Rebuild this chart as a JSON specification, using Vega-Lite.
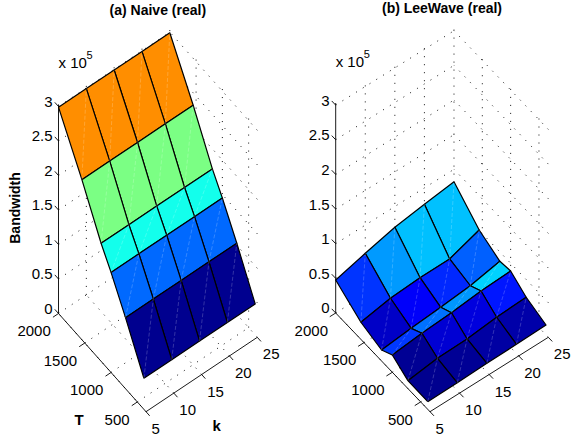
{"$schema":"https://vega.github.io/schema/vega-lite/v6.json","width":571,"height":440,"autosize":{"type":"fit","contains":"padding"},"padding":0,"background":"white","config":{"view":{"stroke":null},"text":{"font":"Liberation Sans"}},
"data":{"values":[
{"kind":"grid","id":"g1","p":["a","b"],"k":[5,5],"T":[335,2000],"z":[0,0],"o":[0,1]},
{"kind":"grid","id":"g2","p":["a","b"],"k":[10,10],"T":[335,2000],"z":[0,0],"o":[0,1]},
{"kind":"grid","id":"g3","p":["a","b"],"k":[15,15],"T":[335,2000],"z":[0,0],"o":[0,1]},
{"kind":"grid","id":"g4","p":["a","b"],"k":[20,20],"T":[335,2000],"z":[0,0],"o":[0,1]},
{"kind":"grid","id":"g5","p":["a","b"],"k":[25,25],"T":[335,2000],"z":[0,0],"o":[0,1]},
{"kind":"grid","id":"g6","p":["a","b"],"k":[5,25],"T":[500,500],"z":[0,0],"o":[0,1]},
{"kind":"grid","id":"g7","p":["a","b"],"k":[5,25],"T":[1000,1000],"z":[0,0],"o":[0,1]},
{"kind":"grid","id":"g8","p":["a","b"],"k":[5,25],"T":[1500,1500],"z":[0,0],"o":[0,1]},
{"kind":"grid","id":"g9","p":["a","b"],"k":[5,25],"T":[2000,2000],"z":[0,0],"o":[0,1]},
{"kind":"grid","id":"h1","p":["a","b"],"k":[5,25],"T":[2000,2000],"z":[0.5,0.5],"o":[0,1]},
{"kind":"grid","id":"h2","p":["a","b"],"k":[5,25],"T":[2000,2000],"z":[1,1],"o":[0,1]},
{"kind":"grid","id":"h3","p":["a","b"],"k":[5,25],"T":[2000,2000],"z":[1.5,1.5],"o":[0,1]},
{"kind":"grid","id":"h4","p":["a","b"],"k":[5,25],"T":[2000,2000],"z":[2,2],"o":[0,1]},
{"kind":"grid","id":"h5","p":["a","b"],"k":[5,25],"T":[2000,2000],"z":[2.5,2.5],"o":[0,1]},
{"kind":"grid","id":"h6","p":["a","b"],"k":[5,25],"T":[2000,2000],"z":[3,3],"o":[0,1]},
{"kind":"grid","id":"v1","p":["a","b"],"k":[10,10],"T":[2000,2000],"z":[0,3.03],"o":[0,1]},
{"kind":"grid","id":"v2","p":["a","b"],"k":[15,15],"T":[2000,2000],"z":[0,3.03],"o":[0,1]},
{"kind":"grid","id":"v3","p":["a","b"],"k":[20,20],"T":[2000,2000],"z":[0,3.03],"o":[0,1]},
{"kind":"grid","id":"v4","p":["a","b"],"k":[25,25],"T":[2000,2000],"z":[0,3.03],"o":[0,1]},
{"kind":"grid","id":"w1","p":["a","b"],"k":[25,25],"T":[335,2000],"z":[0.5,0.5],"o":[0,1]},
{"kind":"grid","id":"w2","p":["a","b"],"k":[25,25],"T":[335,2000],"z":[1,1],"o":[0,1]},
{"kind":"grid","id":"w3","p":["a","b"],"k":[25,25],"T":[335,2000],"z":[1.5,1.5],"o":[0,1]},
{"kind":"grid","id":"w4","p":["a","b"],"k":[25,25],"T":[335,2000],"z":[2,2],"o":[0,1]},
{"kind":"grid","id":"w5","p":["a","b"],"k":[25,25],"T":[335,2000],"z":[2.5,2.5],"o":[0,1]},
{"kind":"grid","id":"w6","p":["a","b"],"k":[25,25],"T":[335,2000],"z":[3,3],"o":[0,1]},
{"kind":"grid","id":"u1","p":["a","b"],"k":[25,25],"T":[500,500],"z":[0,3.03],"o":[0,1]},
{"kind":"grid","id":"u2","p":["a","b"],"k":[25,25],"T":[1000,1000],"z":[0,3.03],"o":[0,1]},
{"kind":"grid","id":"u3","p":["a","b"],"k":[25,25],"T":[1500,1500],"z":[0,3.03],"o":[0,1]},
{"kind":"axis","id":"az","p":["a","b"],"k":[5,5],"T":[2000,2000],"z":[0,3.03],"o":[0,1]},
{"kind":"axis","id":"aT","p":["a","b"],"k":[5,5],"T":[335,2000],"z":[0,0],"o":[0,1]},
{"kind":"axis","id":"ak","p":["a","b"],"k":[5,25],"T":[335,335],"z":[0,0],"o":[0,1]},
{"kind":"axis","id":"t1","p":["a","b"],"k":[4,5],"T":[2000,2000],"z":[0,0],"o":[0,1]},
{"kind":"axis","id":"t2","p":["a","b"],"k":[4,5],"T":[1500,1500],"z":[0,0],"o":[0,1]},
{"kind":"axis","id":"t3","p":["a","b"],"k":[4,5],"T":[1000,1000],"z":[0,0],"o":[0,1]},
{"kind":"axis","id":"t4","p":["a","b"],"k":[4,5],"T":[500,500],"z":[0,0],"o":[0,1]},
{"kind":"axis","id":"k1","p":["a","b"],"k":[5,5],"T":[265,335],"z":[0,0],"o":[0,1]},
{"kind":"axis","id":"k2","p":["a","b"],"k":[10,10],"T":[265,335],"z":[0,0],"o":[0,1]},
{"kind":"axis","id":"k3","p":["a","b"],"k":[15,15],"T":[265,335],"z":[0,0],"o":[0,1]},
{"kind":"axis","id":"k4","p":["a","b"],"k":[20,20],"T":[265,335],"z":[0,0],"o":[0,1]},
{"kind":"axis","id":"k5","p":["a","b"],"k":[25,25],"T":[265,335],"z":[0,0],"o":[0,1]},
{"kind":"axis","id":"z0","p":["a","b"],"k":[5,5],"T":[2000,2070],"z":[0,0],"o":[0,1]},
{"kind":"axis","id":"z1","p":["a","b"],"k":[5,5],"T":[2000,2070],"z":[0.5,0.5],"o":[0,1]},
{"kind":"axis","id":"z2","p":["a","b"],"k":[5,5],"T":[2000,2070],"z":[1,1],"o":[0,1]},
{"kind":"axis","id":"z3","p":["a","b"],"k":[5,5],"T":[2000,2070],"z":[1.5,1.5],"o":[0,1]},
{"kind":"axis","id":"z4","p":["a","b"],"k":[5,5],"T":[2000,2070],"z":[2,2],"o":[0,1]},
{"kind":"axis","id":"z5","p":["a","b"],"k":[5,5],"T":[2000,2070],"z":[2.5,2.5],"o":[0,1]},
{"kind":"axis","id":"z6","p":["a","b"],"k":[5,5],"T":[2000,2070],"z":[3,3],"o":[0,1]},

{"kind":"cell","id":"a01","p":["a"],"v":2.32,"k":[20,25,25,20,20],"T":[1555,1555,2000,2000,1555],"z":[2.32,2.32,2.99,2.99,2.32],"o":[0,1,2,3,4]},
{"kind":"cell","id":"a02","p":["a"],"v":2.32,"k":[15,20,20,15,15],"T":[1555,1555,2000,2000,1555],"z":[2.32,2.32,2.99,2.99,2.32],"o":[0,1,2,3,4]},
{"kind":"cell","id":"a03","p":["a"],"v":2.32,"k":[10,15,15,10,10],"T":[1555,1555,2000,2000,1555],"z":[2.32,2.32,2.99,2.99,2.32],"o":[0,1,2,3,4]},
{"kind":"cell","id":"a04","p":["a"],"v":2.32,"k":[5,10,10,5,5],"T":[1555,1555,2000,2000,1555],"z":[2.32,2.32,2.99,2.99,2.32],"o":[0,1,2,3,4]},
{"kind":"cell","id":"a05","p":["a"],"v":1.71,"k":[20,25,25,20,20],"T":[1190,1190,1555,1555,1190],"z":[1.71,1.71,2.32,2.32,1.71],"o":[0,1,2,3,4]},
{"kind":"cell","id":"a06","p":["a"],"v":1.71,"k":[15,20,20,15,15],"T":[1190,1190,1555,1555,1190],"z":[1.71,1.71,2.32,2.32,1.71],"o":[0,1,2,3,4]},
{"kind":"cell","id":"a07","p":["a"],"v":1.71,"k":[10,15,15,10,10],"T":[1190,1190,1555,1555,1190],"z":[1.71,1.71,2.32,2.32,1.71],"o":[0,1,2,3,4]},
{"kind":"cell","id":"a08","p":["a"],"v":1.71,"k":[5,10,10,5,5],"T":[1190,1190,1555,1555,1190],"z":[1.71,1.71,2.32,2.32,1.71],"o":[0,1,2,3,4]},
{"kind":"cell","id":"a09","p":["a"],"v":1.45,"k":[20,25,25,20,20],"T":[1000,1000,1190,1190,1000],"z":[1.45,1.45,1.71,1.71,1.45],"o":[0,1,2,3,4]},
{"kind":"cell","id":"a10","p":["a"],"v":1.45,"k":[15,20,20,15,15],"T":[1000,1000,1190,1190,1000],"z":[1.45,1.45,1.71,1.71,1.45],"o":[0,1,2,3,4]},
{"kind":"cell","id":"a11","p":["a"],"v":1.45,"k":[10,15,15,10,10],"T":[1000,1000,1190,1190,1000],"z":[1.45,1.45,1.71,1.71,1.45],"o":[0,1,2,3,4]},
{"kind":"cell","id":"a12","p":["a"],"v":1.45,"k":[5,10,10,5,5],"T":[1000,1000,1190,1190,1000],"z":[1.45,1.45,1.71,1.71,1.45],"o":[0,1,2,3,4]},
{"kind":"cell","id":"a13","p":["a"],"v":1.03,"k":[20,25,25,20,20],"T":[725,725,1000,1000,725],"z":[1.03,1.03,1.45,1.45,1.03],"o":[0,1,2,3,4]},
{"kind":"cell","id":"a14","p":["a"],"v":1.03,"k":[15,20,20,15,15],"T":[725,725,1000,1000,725],"z":[1.03,1.03,1.45,1.45,1.03],"o":[0,1,2,3,4]},
{"kind":"cell","id":"a15","p":["a"],"v":1.03,"k":[10,15,15,10,10],"T":[725,725,1000,1000,725],"z":[1.03,1.03,1.45,1.45,1.03],"o":[0,1,2,3,4]},
{"kind":"cell","id":"a16","p":["a"],"v":1.03,"k":[5,10,10,5,5],"T":[725,725,1000,1000,725],"z":[1.03,1.03,1.45,1.45,1.03],"o":[0,1,2,3,4]},
{"kind":"cell","id":"a17","p":["a"],"v":0.45,"k":[20,25,25,20,20],"T":[375,375,725,725,375],"z":[0.45,0.45,1.03,1.03,0.45],"o":[0,1,2,3,4]},
{"kind":"cell","id":"a18","p":["a"],"v":0.45,"k":[15,20,20,15,15],"T":[375,375,725,725,375],"z":[0.45,0.45,1.03,1.03,0.45],"o":[0,1,2,3,4]},
{"kind":"cell","id":"a19","p":["a"],"v":0.45,"k":[10,15,15,10,10],"T":[375,375,725,725,375],"z":[0.45,0.45,1.03,1.03,0.45],"o":[0,1,2,3,4]},
{"kind":"cell","id":"a20","p":["a"],"v":0.45,"k":[5,10,10,5,5],"T":[375,375,725,725,375],"z":[0.45,0.45,1.03,1.03,0.45],"o":[0,1,2,3,4]},

{"kind":"cell","id":"b01","p":["b"],"v":0.355,"k":[20,25,25,20,20],"T":[1555,1555,2000,2000,1555],"z":[0.355,0.505,0.82,0.763,0.355],"o":[0,1,2,3,4]},
{"kind":"cell","id":"b02","p":["b"],"v":0.354,"k":[15,20,20,15,15],"T":[1555,1555,2000,2000,1555],"z":[0.354,0.355,0.763,0.7,0.354],"o":[0,1,2,3,4]},
{"kind":"cell","id":"b03","p":["b"],"v":0.325,"k":[10,15,15,10,10],"T":[1555,1555,2000,2000,1555],"z":[0.325,0.354,0.7,0.593,0.325],"o":[0,1,2,3,4]},
{"kind":"cell","id":"b04","p":["b"],"v":0.247,"k":[5,10,10,5,5],"T":[1555,1555,2000,2000,1555],"z":[0.247,0.325,0.593,0.476,0.247],"o":[0,1,2,3,4]},
{"kind":"cell","id":"b05","p":["b"],"v":0.281,"k":[20,25,25,20,20],"T":[1190,1190,1555,1555,1190],"z":[0.281,0.365,0.505,0.355,0.281],"o":[0,1,2,3,4]},
{"kind":"cell","id":"b06","p":["b"],"v":0.238,"k":[15,20,20,15,15],"T":[1190,1190,1555,1555,1190],"z":[0.238,0.281,0.355,0.354,0.238],"o":[0,1,2,3,4]},
{"kind":"cell","id":"b07","p":["b"],"v":0.203,"k":[10,15,15,10,10],"T":[1190,1190,1555,1555,1190],"z":[0.203,0.238,0.354,0.325,0.203],"o":[0,1,2,3,4]},
{"kind":"cell","id":"b08","p":["b"],"v":0.159,"k":[5,10,10,5,5],"T":[1190,1190,1555,1555,1190],"z":[0.159,0.203,0.325,0.247,0.159],"o":[0,1,2,3,4]},
{"kind":"cell","id":"b09","p":["b"],"v":0.368,"k":[20,25,25,20,20],"T":[1000,1000,1190,1190,1000],"z":[0.368,0.388,0.365,0.281,0.368],"o":[0,1,2,3,4]},
{"kind":"cell","id":"b10","p":["b"],"v":0.323,"k":[15,20,20,15,15],"T":[1000,1000,1190,1190,1000],"z":[0.323,0.368,0.281,0.238,0.323],"o":[0,1,2,3,4]},
{"kind":"cell","id":"b11","p":["b"],"v":0.294,"k":[10,15,15,10,10],"T":[1000,1000,1190,1190,1000],"z":[0.294,0.323,0.238,0.203,0.294],"o":[0,1,2,3,4]},
{"kind":"cell","id":"b12","p":["b"],"v":0.25,"k":[5,10,10,5,5],"T":[1000,1000,1190,1190,1000],"z":[0.25,0.294,0.203,0.159,0.25],"o":[0,1,2,3,4]},
{"kind":"cell","id":"b13","p":["b"],"v":0.224,"k":[20,25,25,20,20],"T":[725,725,1000,1000,725],"z":[0.224,0.244,0.388,0.368,0.224],"o":[0,1,2,3,4]},
{"kind":"cell","id":"b14","p":["b"],"v":0.179,"k":[15,20,20,15,15],"T":[725,725,1000,1000,725],"z":[0.179,0.224,0.368,0.323,0.179],"o":[0,1,2,3,4]},
{"kind":"cell","id":"b15","p":["b"],"v":0.169,"k":[10,15,15,10,10],"T":[725,725,1000,1000,725],"z":[0.169,0.179,0.323,0.294,0.169],"o":[0,1,2,3,4]},
{"kind":"cell","id":"b16","p":["b"],"v":0.114,"k":[5,10,10,5,5],"T":[725,725,1000,1000,725],"z":[0.114,0.169,0.294,0.25,0.114],"o":[0,1,2,3,4]},
{"kind":"cell","id":"b17","p":["b"],"v":0.133,"k":[20,25,25,20,20],"T":[375,375,725,725,375],"z":[0.133,0.143,0.244,0.224,0.133],"o":[0,1,2,3,4]},
{"kind":"cell","id":"b18","p":["b"],"v":0.127,"k":[15,20,20,15,15],"T":[375,375,725,725,375],"z":[0.127,0.133,0.224,0.179,0.127],"o":[0,1,2,3,4]},
{"kind":"cell","id":"b19","p":["b"],"v":0.115,"k":[10,15,15,10,10],"T":[375,375,725,725,375],"z":[0.115,0.127,0.179,0.169,0.115],"o":[0,1,2,3,4]},
{"kind":"cell","id":"b20","p":["b"],"v":0.11,"k":[5,10,10,5,5],"T":[375,375,725,725,375],"z":[0.11,0.115,0.169,0.114,0.11],"o":[0,1,2,3,4]},

{"kind":"zlab","label":"0","p":["a","b"],"k":[5],"T":[2000],"z":[0],"o":[0]},
{"kind":"zlab","label":"0.5","p":["a","b"],"k":[5],"T":[2000],"z":[0.5],"o":[0]},
{"kind":"zlab","label":"1","p":["a","b"],"k":[5],"T":[2000],"z":[1],"o":[0]},
{"kind":"zlab","label":"1.5","p":["a","b"],"k":[5],"T":[2000],"z":[1.5],"o":[0]},
{"kind":"zlab","label":"2","p":["a","b"],"k":[5],"T":[2000],"z":[2],"o":[0]},
{"kind":"zlab","label":"2.5","p":["a","b"],"k":[5],"T":[2000],"z":[2.5],"o":[0]},
{"kind":"zlab","label":"3","p":["a","b"],"k":[5],"T":[2000],"z":[3],"o":[0]},
{"kind":"Tlab","label":"2000","p":["a","b"],"k":[5],"T":[2000],"z":[0],"o":[0]},
{"kind":"Tlab","label":"1500","p":["a","b"],"k":[5],"T":[1500],"z":[0],"o":[0]},
{"kind":"Tlab","label":"1000","p":["a","b"],"k":[5],"T":[1000],"z":[0],"o":[0]},
{"kind":"Tlab","label":"500","p":["a","b"],"k":[5],"T":[500],"z":[0],"o":[0]},
{"kind":"klab","label":"5","p":["a","b"],"k":[5],"T":[335],"z":[0],"o":[0]},
{"kind":"klab","label":"10","p":["a","b"],"k":[10],"T":[335],"z":[0],"o":[0]},
{"kind":"klab","label":"15","p":["a","b"],"k":[15],"T":[335],"z":[0],"o":[0]},
{"kind":"klab","label":"20","p":["a","b"],"k":[20],"T":[335],"z":[0],"o":[0]},
{"kind":"klab","label":"25","p":["a","b"],"k":[25],"T":[335],"z":[0],"o":[0]},
{"kind":"title","label":"(a) Naive (real)","p":["a"],"k":[25],"T":[2000],"z":[3.03],"o":[0]},
{"kind":"title","label":"(b) LeeWave (real)","p":["b"],"k":[25],"T":[2000],"z":[3.03],"o":[0]},
{"kind":"exp","label":"x 10","p":["a","b"],"k":[5],"T":[2000],"z":[3.03],"o":[0]},
{"kind":"sup","label":"5","p":["a","b"],"k":[5],"T":[2000],"z":[3.03],"o":[0]},
{"kind":"zname","label":"Bandwidth","p":["a"],"k":[5],"T":[2000],"z":[1.5],"o":[0]},
{"kind":"Tname","label":"T","p":["a"],"k":[5],"T":[1000],"z":[0],"o":[0]},
{"kind":"kname","label":"k","p":["a"],"k":[15],"T":[335],"z":[0],"o":[0]}
]},
"transform":[
{"flatten":["k","T","z","o"]},
{"flatten":["p"]},
{"calculate":"datum.p==='a' ? 146+(datum.k-5)*5.565-(datum.T-335)*0.05255 : 430+(datum.k-5)*5.915-(datum.T-335)*0.05664","as":"sx"},
{"calculate":"datum.p==='a' ? 411.7-(datum.k-5)*3.72-(datum.T-335)*0.05898-datum.z*69 : 411.7-(datum.k-5)*3.72-(datum.T-335)*0.05928-datum.z*69.3","as":"sy"},
{"calculate":"datum.p==='a' ? (datum.v-0.45)/2.54 : (datum.v-0.11)/0.78","as":"t"}
],
"encoding":{
"x":{"field":"sx","type":"quantitative","axis":null,"scale":{"domain":[0,571],"nice":false,"zero":false}},
"y":{"field":"sy","type":"quantitative","axis":null,"scale":{"domain":[440,0],"nice":false,"zero":false}}
},
"layer":[
{"transform":[{"filter":"datum.kind==='grid'"}],"mark":{"type":"line","stroke":"#111111","strokeWidth":1,"strokeDash":[1,7],"clip":false},"encoding":{"detail":[{"field":"p"},{"field":"id"}],"order":{"field":"o","type":"quantitative"}}},
{"transform":[{"filter":"datum.kind==='axis'"}],"mark":{"type":"line","stroke":"#000000","strokeWidth":0.9},"encoding":{"detail":[{"field":"p"},{"field":"id"}],"order":{"field":"o","type":"quantitative"}}},
{"transform":[{"filter":"datum.kind==='cell'"}],"mark":{"type":"line","stroke":"#000000","strokeWidth":1.2,"strokeJoin":"round"},"encoding":{"detail":{"field":"id"},"order":{"field":"o","type":"quantitative"},"fill":{"field":"t","type":"quantitative","legend":null,"scale":{"domain":[0,0.125,0.375,0.625,0.875,1],"range":["#00008f","#0000ff","#00ffff","#ffff00","#ff0000","#800000"],"interpolate":"rgb","clamp":true}}}},
{"transform":[{"filter":"datum.kind==='cell' && (datum.o===0 || datum.o===2)"}],"mark":{"type":"line","stroke":"#ffffff","strokeWidth":0.8,"strokeOpacity":0.25,"strokeDash":[4,2]},"encoding":{"detail":{"field":"id"},"order":{"field":"o","type":"quantitative"}}},
{"transform":[{"filter":"datum.kind==='zlab'"}],"mark":{"type":"text","align":"right","baseline":"middle","fontSize":15,"dx":-6,"dy":-4.5,"font":"Liberation Sans"},"encoding":{"text":{"field":"label"}}},
{"transform":[{"filter":"datum.kind==='Tlab'"}],"mark":{"type":"text","align":"right","baseline":"middle","fontSize":15,"dx":-7.7,"dy":17.7,"font":"Liberation Sans"},"encoding":{"text":{"field":"label"}}},
{"transform":[{"filter":"datum.kind==='klab'"}],"mark":{"type":"text","align":"left","baseline":"middle","fontSize":15,"dx":5.5,"dy":17,"font":"Liberation Sans"},"encoding":{"text":{"field":"label"}}},
{"transform":[{"filter":"datum.kind==='title'"}],"mark":{"type":"text","align":"center","baseline":"middle","fontSize":14,"fontWeight":"bold","dx":-12,"dy":-19.5,"font":"Liberation Sans"},"encoding":{"text":{"field":"label"}}},
{"transform":[{"filter":"datum.kind==='exp'"}],"mark":{"type":"text","align":"left","baseline":"middle","fontSize":15,"dx":0,"dy":-41,"font":"Liberation Sans"},"encoding":{"text":{"field":"label"}}},
{"transform":[{"filter":"datum.kind==='sup'"}],"mark":{"type":"text","align":"left","baseline":"middle","fontSize":11,"dx":28,"dy":-48,"font":"Liberation Sans"},"encoding":{"text":{"field":"label"}}},
{"transform":[{"filter":"datum.kind==='zname'"}],"mark":{"type":"text","align":"center","baseline":"middle","fontSize":14,"fontWeight":"bold","angle":270,"dx":2,"dy":-43,"font":"Liberation Sans"},"encoding":{"text":{"field":"label"}}},
{"transform":[{"filter":"datum.kind==='Tname'"}],"mark":{"type":"text","align":"center","baseline":"middle","fontSize":15,"fontWeight":"bold","dx":-32,"dy":47.5,"font":"Liberation Sans"},"encoding":{"text":{"field":"label"}}},
{"transform":[{"filter":"datum.kind==='kname'"}],"mark":{"type":"text","align":"center","baseline":"middle","fontSize":15,"fontWeight":"bold","dx":15,"dy":51.5,"font":"Liberation Sans"},"encoding":{"text":{"field":"label"}}}
]}
